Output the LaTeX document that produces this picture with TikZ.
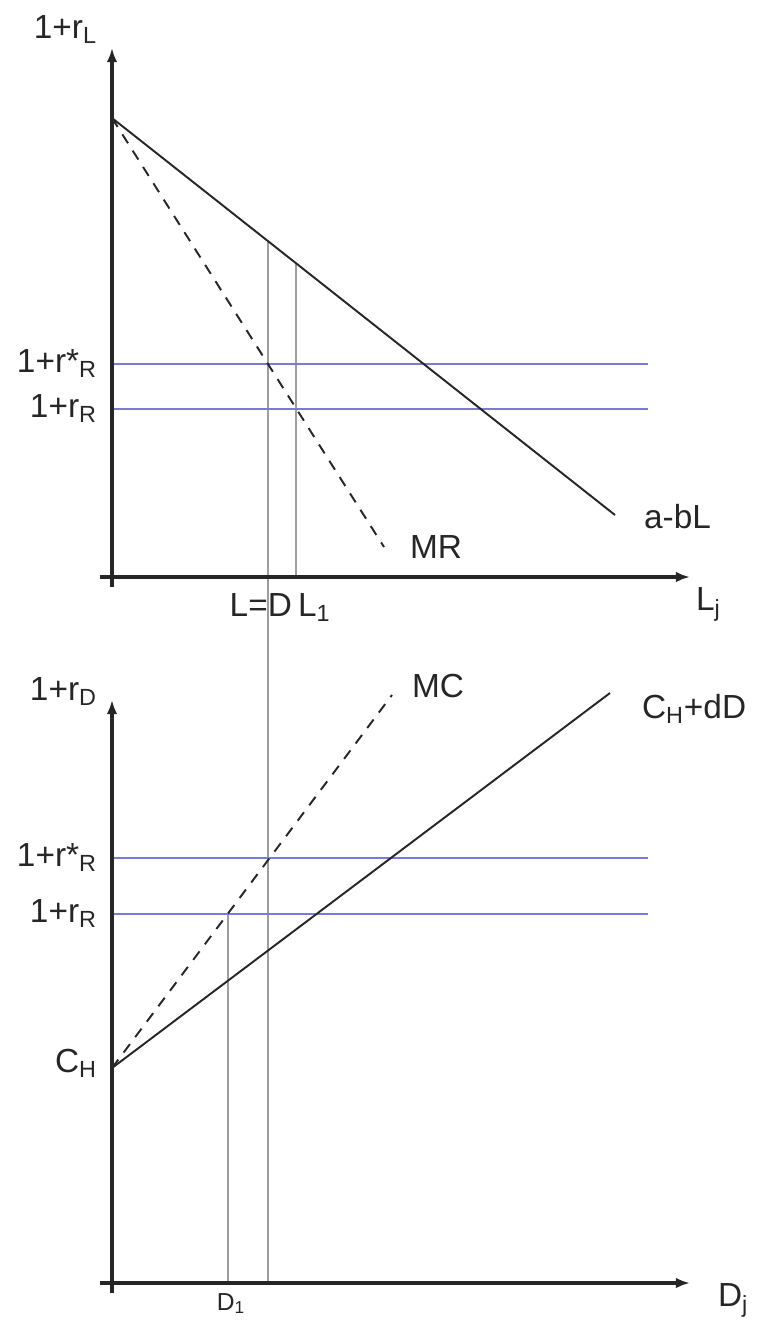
\documentclass[tikz,border=0pt]{standalone}
\usepackage{fontspec}
\setmainfont{Liberation Sans}
\usetikzlibrary{arrows.meta}

\definecolor{rateblue}{RGB}{122,122,218}

\begin{document}
\begin{tikzpicture}[
    x=0.02cm, y=-0.02cm,
    % axes of both panels
    axis/.style={draw=black!85, line width=1.9pt, -{Latex[length=8pt,width=6pt]}},
    % demand, cost and marginal curves
    curve/.style={draw=black!85, line width=1.1pt},
    mcurve/.style={curve, dash pattern=on 6pt off 5pt},
    % interest rate levels
    rate/.style={draw=rateblue, line width=1.5pt},
    % vertical guide lines
    guide/.style={draw=black!38, line width=1.1pt},
    lbl/.style={font=\fontsize{19}{22}\selectfont, text=black!85, inner sep=1pt},
    smalllbl/.style={font=\fontsize{14}{16}\selectfont, text=black!85, inner sep=1pt}
]
\useasboundingbox (0,0) rectangle (763,1320);

% Panneau du haut : credits
\coordinate (yBot1) at (112,587);
\coordinate (yTop1) at (112,48);
\coordinate (xBeg1) at (100,577);
\coordinate (xEnd1) at (690,577);
\coordinate (A)     at (112,118);
\coordinate (dEnd)  at (615,515);
\coordinate (mrEnd) at (384,547);
\coordinate (rs1a)  at (112,364);
\coordinate (rs1b)  at (648,364);
\coordinate (r1a)   at (112,409);
\coordinate (r1b)   at (648,409);
\coordinate (ldTop) at (268,241);
\coordinate (ldBot) at (268,1283);
\coordinate (l1Top) at (296,263);
\coordinate (l1Bot) at (296,577);

\draw[guide] (ldTop) -- (ldBot);
\draw[guide] (l1Top) -- (l1Bot);
\draw[rate] (rs1a) -- (rs1b);
\draw[rate] (r1a) -- (r1b);
\draw[curve] (A) -- (dEnd);
\draw[mcurve] (A) -- (mrEnd);
\draw[axis] (yBot1) -- (yTop1);
\draw[axis] (xBeg1) -- (xEnd1);

\node[lbl, anchor=base east] (lblrL) at (99,38) {1+r\textsubscript{L}};
\node[lbl, anchor=base east] (lblrs1) at (99,372) {1+r*\textsubscript{R}};
\node[lbl, anchor=base east] (lblr1) at (99,417) {1+r\textsubscript{R}};
\node[lbl, anchor=base west] (lbldem) at (642,528) {a-bL};
\node[lbl, anchor=base west] (lblmr) at (408,558) {MR};
\node[lbl, anchor=base west] (lblLj) at (694,610) {L\textsubscript{j}};
\node[lbl, anchor=base east] (lblLD) at (294,616) {L=D};
\node[lbl, anchor=base west] (lblL1) at (296,616) {L\textsubscript{1}};

% Panneau du bas : depots
\coordinate (yBot2) at (112,1293);
\coordinate (yTop2) at (112,700);
\coordinate (xBeg2) at (100,1283);
\coordinate (xEnd2) at (690,1283);
\coordinate (C)     at (112,1068);
\coordinate (cEnd)  at (610,693);
\coordinate (mcEnd) at (392,695);
\coordinate (rs2a)  at (112,858);
\coordinate (rs2b)  at (648,858);
\coordinate (r2a)   at (112,914);
\coordinate (r2b)   at (648,914);
\coordinate (d1Top) at (228,914);
\coordinate (d1Bot) at (228,1283);

\draw[guide] (d1Top) -- (d1Bot);
\draw[rate] (rs2a) -- (rs2b);
\draw[rate] (r2a) -- (r2b);
\draw[curve] (C) -- (cEnd);
\draw[mcurve] (C) -- (mcEnd);
\draw[axis] (yBot2) -- (yTop2);
\draw[axis] (xBeg2) -- (xEnd2);

\node[lbl, anchor=base east] (lblrD) at (99,700) {1+r\textsubscript{D}};
\node[lbl, anchor=base east] (lblrs2) at (99,866) {1+r*\textsubscript{R}};
\node[lbl, anchor=base east] (lblr2) at (99,922) {1+r\textsubscript{R}};
\node[lbl, anchor=base east] (lblCH) at (99,1072) {C\textsubscript{H}};
\node[lbl, anchor=base west] (lblmc) at (410,697) {MC};
\node[lbl, anchor=base west] (lblcost) at (640,718) {C\textsubscript{H}+dD};
\node[lbl, anchor=base west] (lblDj) at (716,1306) {D\textsubscript{j}};
\node[smalllbl, anchor=base] (lblD1) at (231,1310) {D\textsubscript{1}};

\end{tikzpicture}
\end{document}
